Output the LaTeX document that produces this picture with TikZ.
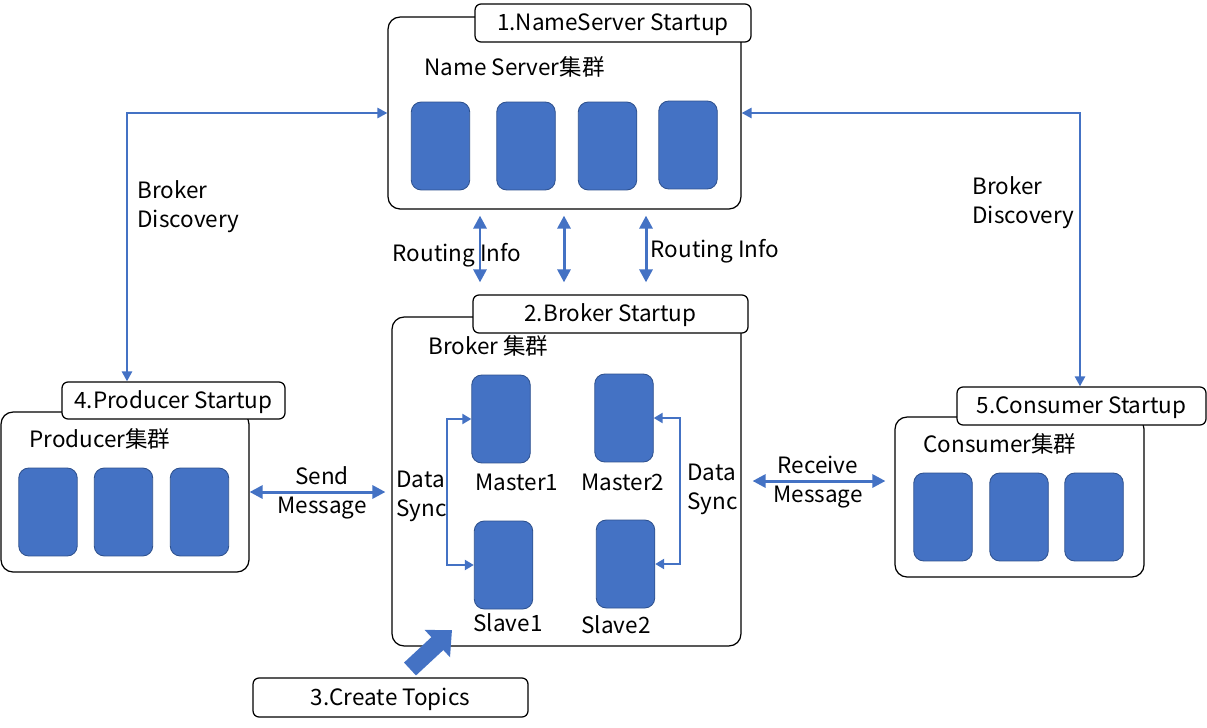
\documentclass[tikz,border=0pt]{standalone}
\usepackage{fontspec}
\setmainfont{Noto Sans CJK SC}
\usetikzlibrary{arrows.meta}
\definecolor{nodeblue}{HTML}{4472C4}
\definecolor{edgeblue}{HTML}{2F528F}

\begin{document}
\begin{tikzpicture}[x=0.02cm, y=-0.02cm]
	\tikzstyle{every node} = [font=\fontsize{12.8}{16.5}\selectfont]
	\tikzstyle{cluster} = [draw, line width=0.7pt, rounded corners=0.24cm, fill=white]
	\tikzstyle{tag} = [draw, line width=0.7pt, rounded corners=0.12cm, fill=white, inner sep=0pt, text height=1.1em, text depth=0.2em]
	\tikzstyle{server} = [draw=edgeblue, line width=0.5pt, fill=nodeblue, rounded corners=0.2cm, minimum width=1.17cm, minimum height=1.76cm, inner sep=0pt]
	\tikzstyle{caption} = [inner sep=0pt, text height=1.1em, text depth=0.2em]
	\tikzstyle{twoline} = [inner sep=0pt, yshift=-0.06cm]
	\tikzstyle{link} = [draw=nodeblue, line width=1.7pt, {Triangle[length=0.26cm, width=0.26cm]}-{Triangle[length=0.26cm, width=0.26cm]}]
	\tikzstyle{discovery} = [draw=nodeblue, line width=1.6pt, {Triangle[length=0.2cm, width=0.2cm]}-{Triangle[length=0.2cm, width=0.2cm]}]
	\tikzstyle{sync} = [draw=nodeblue, line width=1.3pt, {Triangle[length=0.18cm, width=0.2cm]}-{Triangle[length=0.18cm, width=0.2cm]}]
	\tikzstyle{topic} = [draw=nodeblue, line width=10pt, -{Triangle[length=0.4cm, width=0.72cm]}]
	\useasboundingbox (0,0) rectangle (1207,727);

	\node [cluster, minimum width=7.06cm, minimum height=3.84cm] (ns) at (564.5, 113) {};
	\node [tag, minimum width=5.52cm, minimum height=0.76cm] (nstag) at (613, 23) {1.NameServer\ Startup};
	\node [caption, anchor=west] (nscap) at (424, 68) {Name Server集群};
	\node [server] (ns1) at (440.5, 146) {};
	\node [server] (ns2) at (526, 146) {};
	\node [server] (ns3) at (607.5, 146) {};
	\node [server] (ns4) at (688, 145) {};

	\node [cluster, minimum width=6.98cm, minimum height=6.58cm] (bb) at (566.5, 481.5) {};
	\node [tag, minimum width=5.5cm, minimum height=0.76cm] (bl) at (610.5, 314) {2.Broker Startup};
	\node [caption, anchor=west] (bcap) at (428, 347) {Broker\ 集群};
	\node [server] (m1) at (501, 419) {};
	\node [server] (m2) at (624, 418) {};
	\node [server] (s1) at (503.5, 565) {};
	\node [server] (s2) at (625.5, 564) {};
	\node [caption] (m1cap) at (517, 483) {Master1};
	\node [caption] (m2cap) at (623, 483) {Master2};
	\node [caption] (s1cap) at (508, 624) {Slave1};
	\node [caption] (s2cap) at (616, 626) {Slave2};

	\node [cluster, minimum width=4.96cm, minimum height=3.2cm] (pb) at (125, 492) {};
	\node [tag, minimum width=4.46cm, minimum height=0.74cm] (pl) at (173.5, 400.5) {4.Producer Startup};
	\node [caption, anchor=west] (pcap) at (29, 440) {Producer集群};
	\node [server] (p1) at (48, 512) {};
	\node [server] (p2) at (123.5, 512) {};
	\node [server] (p3) at (199.5, 512) {};

	\node [cluster, minimum width=4.98cm, minimum height=3.2cm] (cb) at (1019.5, 497) {};
	\node [tag, minimum width=4.98cm, minimum height=0.76cm] (cl) at (1081.5, 406) {5.Consumer Startup};
	\node [caption, anchor=west] (ccap) at (923, 445) {Consumer集群};
	\node [server] (c1) at (943, 517) {};
	\node [server] (c2) at (1019, 517) {};
	\node [server] (c3) at (1094, 517) {};

	\node [tag, minimum width=5.5cm, minimum height=0.78cm] (ct) at (390.5, 697.5) {3.Create Topics};

	\node [twoline, align=left, anchor=west] (bdlcap) at (137, 204) {Broker\\Discovery};
	\node [twoline, align=left, anchor=west] (bdrcap) at (972, 200) {Broker\\Discovery};
	\node [caption] (ricap1) at (457, 254) {Routing Info};
	\node [caption] (ricap2) at (715, 250) {Routing Info};
	\node [twoline, align=center] (smcap) at (322, 490) {Send\\Message};
	\node [twoline, align=center] (rmcap) at (818, 479) {Receive\\Message};
	\node [twoline, align=left, anchor=west] (dslcap) at (396, 493) {Data\\Sync};
	\node [twoline, align=left, anchor=west] (dsrcap) at (687, 486) {Data\\Sync};

	\coordinate (r1) at (480, 0);
	\coordinate (r2) at (564, 0);
	\coordinate (r3) at (646, 0);
	\coordinate (bdl) at (127, 0);
	\coordinate (bdr) at (1080, 0);
	\coordinate (dsl) at (447, 0);
	\coordinate (dsr) at (680, 0);
	\coordinate (rm) at (0, 481);
	\coordinate (ct0) at (410, 669);
	\coordinate (ct1) at (452, 630);

	\draw [link, shorten <=0.12cm, shorten >=0.24cm] (ns.south -| r1) -- (bl.north -| r1);
	\draw [link, shorten <=0.12cm, shorten >=0.24cm] (ns.south -| r2) -- (bl.north -| r2);
	\draw [link, shorten <=0.12cm, shorten >=0.24cm] (ns.south -| r3) -- (bl.north -| r3);
	\draw [discovery] (pl.north -| bdl) -- (bdl |- ns.west) -- (ns.west);
	\draw [discovery] (ns.east) -- (bdr |- ns.east) -- (cl.north -| bdr);
	\draw [link, shorten >=0.12cm] (pb.east) -- (bb.west |- pb.east);
	\draw [link, shorten <=0.22cm, shorten >=0.18cm] (bb.east |- rm) -- (cb.west |- rm);
	\draw [sync] (m1.west) -- (m1.west -| dsl) -- (s1.west -| dsl) -- (s1.west);
	\draw [sync] (m2.east) -- (m2.east -| dsr) -- (s2.east -| dsr) -- (s2.east);
	\draw [topic] (ct0) -- (ct1);
\end{tikzpicture}
\end{document}
